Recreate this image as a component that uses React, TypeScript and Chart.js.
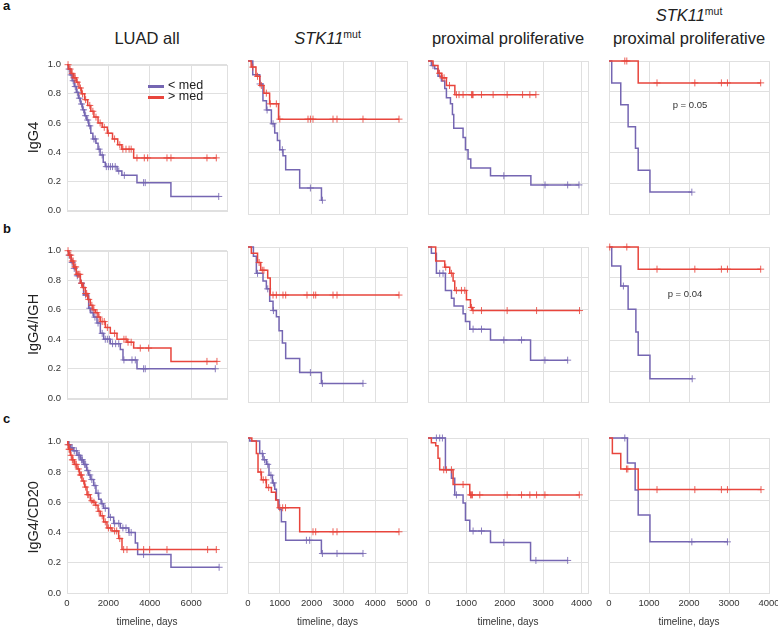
import React, { useEffect, useRef } from "react";
import { Chart, registerables } from "chart.js";
Chart.register(...registerables);

const FONT = '"Liberation Sans", Arial, Helvetica, sans-serif';
const PURPLE = "#7566b2";
const RED = "#e8453c";
const PURPLE_MARK = "rgba(117,102,178,0.85)";
const RED_MARK = "rgba(232,69,60,0.85)";
const GRID = "#e0e0e0";

// ---------- labels / axes ----------
const rowLabels = ["IgG4", "IgG4/IGH", "IgG4/CD20"];
const panelLetters = ["a", "b", "c"];
const colMaxDays = [7730, 5000, 4170, 4000];
const colTicks = [
  [0, 2000, 4000, 6000],
  [0, 1000, 2000, 3000, 4000, 5000],
  [0, 1000, 2000, 3000, 4000],
  [0, 1000, 2000, 3000, 4000],
];
const yTicks = [0, 0.2, 0.4, 0.6, 0.8, 1.0];
const xTitle = "timeline, days";
const seriesNames = ["< med", "> med"];
const pValues = ["p = 0.05", "p = 0.04"];

// ---------- data: event times (days), survival after event, censor times ----------
// Row a: IgG4
const a1LowT = [60, 150, 250, 350, 450, 550, 650, 750, 850, 950, 1050, 1150, 1250, 1400, 1500, 1600, 1750, 1850, 2420, 2650, 3380, 5020];
const a1LowS = [0.97, 0.93, 0.89, 0.85, 0.81, 0.77, 0.73, 0.69, 0.65, 0.62, 0.58, 0.53, 0.49, 0.46, 0.42, 0.38, 0.33, 0.30, 0.27, 0.24, 0.19, 0.095];
const a1LowC = [100, 200, 300, 400, 500, 600, 700, 800, 900, 1000, 1100, 1300, 1370, 1550, 1700, 1900, 2000, 2100, 2200, 2330, 2500, 2770, 3700, 3780, 7330];
const a1HighT = [80, 200, 320, 450, 580, 700, 850, 1000, 1150, 1300, 1500, 1700, 1950, 2200, 2450, 2650, 3220];
const a1HighS = [0.97, 0.94, 0.91, 0.88, 0.84, 0.80, 0.76, 0.72, 0.68, 0.64, 0.60, 0.57, 0.53, 0.49, 0.45, 0.42, 0.36];
const a1HighC = [50, 150, 250, 350, 400, 500, 650, 750, 900, 1100, 1250, 1400, 1600, 1800, 2000, 2300, 2550, 2700, 2850, 3000, 3100, 3380, 3735, 3896, 4830, 5023, 6762, 7213];

const a2LowT = [150, 370, 470, 580, 735, 840, 925, 1000, 1100, 1185, 1625, 2310];
const a2LowS = [0.91, 0.85, 0.74, 0.68, 0.59, 0.53, 0.48, 0.42, 0.38, 0.29, 0.17, 0.09];
const a2LowC = [380, 600, 790, 1080, 1962, 2340];
const a2HighT = [100, 250, 370, 500, 680, 960];
const a2HighS = [0.96, 0.90, 0.84, 0.79, 0.72, 0.62];
const a2HighC = [150, 300, 420, 577, 700, 891, 1000, 1887, 1962, 2044, 2673, 2799, 3616, 4748];

const a3LowT = [88, 175, 261, 350, 436, 480, 585, 637, 671, 914, 976, 1044, 1115, 1629, 2681];
const a3LowS = [0.97, 0.95, 0.90, 0.87, 0.82, 0.76, 0.72, 0.65, 0.56, 0.50, 0.42, 0.36, 0.30, 0.25, 0.19];
const a3LowC = [130, 1976, 3050, 3640, 3935];
const a3HighT = [130, 260, 350, 480, 700];
const a3HighS = [0.97, 0.92, 0.89, 0.84, 0.78];
const a3HighC = [300, 380, 420, 560, 741, 809, 914, 1133, 1159, 1175, 1394, 1697, 2063, 2465, 2655, 2812];

const a4LowT = [68, 294, 478, 662, 730, 1024];
const a4LowS = [0.857, 0.714, 0.571, 0.429, 0.286, 0.143];
const a4LowC = [2071];
const a4HighT = [730];
const a4HighS = [0.857];
const a4HighC = [395, 445, 1200, 2146, 2810, 2961, 3792];

// Row b: IgG4/IGH
const b1LowT = [80, 200, 322, 450, 644, 800, 1047, 1150, 1288, 1449, 1610, 1771, 2093, 2576, 2705, 3381];
const b1LowS = [0.97, 0.92, 0.88, 0.83, 0.78, 0.70, 0.61, 0.58, 0.55, 0.51, 0.44, 0.40, 0.37, 0.33, 0.26, 0.20];
const b1LowC = [100, 250, 350, 500, 700, 900, 1100, 1250, 1350, 1500, 1700, 1850, 1950, 2050, 2200, 2350, 2500, 2750, 3140, 3300, 3700, 3780, 7165];
const b1HighT = [80, 200, 322, 450, 644, 750, 886, 1000, 1127, 1250, 1369, 1500, 1610, 1852, 2093, 2415, 2900, 3220, 5023];
const b1HighS = [0.97, 0.93, 0.89, 0.84, 0.78, 0.75, 0.71, 0.67, 0.63, 0.60, 0.58, 0.55, 0.52, 0.48, 0.44, 0.40, 0.38, 0.34, 0.25];
const b1HighC = [50, 120, 180, 250, 300, 380, 420, 500, 560, 620, 700, 800, 900, 950, 1050, 1200, 1300, 1450, 1550, 1700, 1800, 1950, 2300, 2750, 2850, 2950, 3100, 3540, 3945, 6762, 7245];

const b2LowT = [170, 263, 472, 577, 682, 787, 893, 976, 1081, 1185, 1625, 2308];
const b2LowS = [0.94, 0.83, 0.78, 0.73, 0.65, 0.59, 0.55, 0.46, 0.38, 0.28, 0.19, 0.12];
const b2LowC = [300, 620, 800, 1962, 2340, 3616];
const b2HighT = [105, 300, 400, 620, 700];
const b2HighS = [0.96, 0.90, 0.85, 0.80, 0.69];
const b2HighC = [350, 450, 500, 787, 891, 1100, 1185, 1855, 2066, 2129, 2673, 2799, 4748];

const b3LowT = [88, 219, 454, 611, 679, 914, 976, 1089, 1629, 2673];
const b3LowS = [0.96, 0.83, 0.72, 0.67, 0.62, 0.57, 0.52, 0.47, 0.40, 0.27];
const b3LowC = [305, 392, 1175, 1394, 1976, 2438, 3047, 3640];
const b3HighT = [201, 436, 567, 654, 697, 1002, 1107, 1159];
const b3HighS = [0.91, 0.87, 0.83, 0.78, 0.72, 0.66, 0.61, 0.59];
const b3HighC = [462, 611, 741, 872, 958, 1133, 1175, 1394, 2063, 2830, 3950];

const b4LowT = [68, 294, 478, 672, 730, 1024];
const b4LowS = [0.877, 0.748, 0.598, 0.452, 0.301, 0.15];
const b4LowC = [360, 2080];
const b4HighT = [730];
const b4HighS = [0.857];
const b4HighC = [18, 445, 1200, 2146, 2810, 2961, 3792];

// Row c: IgG4/CD20
const c1LowT = [80, 161, 300, 483, 650, 805, 950, 1047, 1150, 1288, 1400, 1530, 1650, 1771, 2013, 2254, 2576, 2979, 3300, 3413, 5023];
const c1LowS = [0.98, 0.96, 0.94, 0.91, 0.88, 0.85, 0.81, 0.78, 0.75, 0.71, 0.66, 0.62, 0.59, 0.56, 0.50, 0.46, 0.43, 0.40, 0.33, 0.255, 0.17];
const c1LowC = [100, 200, 250, 350, 450, 550, 600, 700, 750, 850, 900, 1000, 1100, 1200, 1350, 1500, 1700, 1850, 2100, 2300, 2500, 2700, 2850, 3000, 3100, 3700, 7350];
const c1HighT = [40, 80, 160, 241, 350, 483, 600, 725, 850, 966, 1127, 1250, 1369, 1500, 1610, 1771, 1932, 2174, 2496, 2657];
const c1HighS = [0.98, 0.95, 0.91, 0.88, 0.85, 0.82, 0.78, 0.74, 0.70, 0.65, 0.61, 0.60, 0.58, 0.54, 0.51, 0.47, 0.43, 0.41, 0.36, 0.287];
const c1HighC = [50, 100, 130, 200, 260, 300, 400, 450, 550, 650, 700, 800, 900, 1000, 1050, 1200, 1300, 1400, 1550, 1700, 1850, 2000, 2100, 2300, 2400, 2550, 2737, 2898, 3703, 3993, 4830, 6794, 7213];

const c2LowT = [53, 368, 472, 577, 660, 767, 840, 893, 976, 1050, 1185, 2308];
const c2LowS = [0.98, 0.90, 0.86, 0.83, 0.76, 0.71, 0.67, 0.60, 0.54, 0.46, 0.34, 0.255];
const c2LowC = [450, 520, 620, 720, 800, 1837, 1940, 2340, 2799, 3616];
const c2HighT = [120, 263, 315, 420, 577, 735, 871, 944, 1625];
const c2HighS = [0.98, 0.90, 0.78, 0.73, 0.68, 0.65, 0.60, 0.55, 0.395];
const c2HighC = [400, 480, 560, 650, 1000, 1090, 1180, 2044, 2129, 2673, 2799, 4748];

const c3LowT = [454, 611, 697, 914, 976, 1089, 1629, 2673];
const c3LowS = [0.795, 0.74, 0.633, 0.58, 0.47, 0.40, 0.326, 0.21];
const c3LowC = [219, 305, 376, 741, 1175, 1394, 1976, 2812, 3640];
const c3HighT = [88, 201, 261, 305, 654, 1089];
const c3HighS = [0.97, 0.95, 0.87, 0.795, 0.70, 0.633];
const c3HighC = [410, 480, 611, 914, 1107, 1133, 1159, 1350, 2063, 2438, 2655, 2830, 3047, 3943];

const c4LowT = [461, 654, 730, 1024];
const c4LowS = [0.838, 0.665, 0.503, 0.33];
const c4LowC = [395, 2071, 2961];
const c4HighT = [84, 294, 730];
const c4HighS = [0.90, 0.80, 0.667];
const c4HighC = [436, 470, 1200, 2146, 2810, 2961, 3800];

type Series = [number[], number[], number[]];
type Panel = { low: Series; high: Series };

const panels: Panel[][] = [
  [
    { low: [a1LowT, a1LowS, a1LowC], high: [a1HighT, a1HighS, a1HighC] },
    { low: [a2LowT, a2LowS, a2LowC], high: [a2HighT, a2HighS, a2HighC] },
    { low: [a3LowT, a3LowS, a3LowC], high: [a3HighT, a3HighS, a3HighC] },
    { low: [a4LowT, a4LowS, a4LowC], high: [a4HighT, a4HighS, a4HighC] },
  ],
  [
    { low: [b1LowT, b1LowS, b1LowC], high: [b1HighT, b1HighS, b1HighC] },
    { low: [b2LowT, b2LowS, b2LowC], high: [b2HighT, b2HighS, b2HighC] },
    { low: [b3LowT, b3LowS, b3LowC], high: [b3HighT, b3HighS, b3HighC] },
    { low: [b4LowT, b4LowS, b4LowC], high: [b4HighT, b4HighS, b4HighC] },
  ],
  [
    { low: [c1LowT, c1LowS, c1LowC], high: [c1HighT, c1HighS, c1HighC] },
    { low: [c2LowT, c2LowS, c2LowC], high: [c2HighT, c2HighS, c2HighC] },
    { low: [c3LowT, c3LowS, c3LowC], high: [c3HighT, c3HighS, c3HighC] },
    { low: [c4LowT, c4LowS, c4LowC], high: [c4HighT, c4HighS, c4HighC] },
  ],
];

// ---------- layout (plot-area rectangles, page px) ----------
const colLeft = [67, 248, 428, 609];
const colRight = [227, 407, 588, 769];
const rowTop = [61, 247, 438];
const rowBottom = [214, 402, 593];

function stepData([t, s, c]: Series) {
  const pts = [{ x: 0, y: 1 }];
  for (let i = 0; i < t.length; i++) pts.push({ x: t[i], y: s[i] });
  const last = Math.max(t.length ? t[t.length - 1] : 0, ...c);
  pts.push({ x: last, y: s.length ? s[s.length - 1] : 1 });
  return pts;
}
function censorData([t, s, c]: Series) {
  return c.map((x) => {
    let y = 1;
    for (let i = 0; i < t.length; i++) if (t[i] <= x) y = s[i];
    return { x, y };
  });
}

const framePlugin = {
  id: "frame",
  beforeDatasetsDraw(chart: any) {
    const { ctx, chartArea } = chart;
    const { left, top, right, bottom } = chartArea;
    ctx.save();
    ctx.strokeStyle = GRID;
    ctx.lineWidth = 1;
    ctx.strokeRect(Math.round(left) + 0.5, Math.round(top) + 0.5, Math.round(right - left), Math.round(bottom - top));
    ctx.restore();
  },
};

function KMPanel({ row, col }: { row: number; col: number }) {
  const ref = useRef<HTMLCanvasElement>(null);
  const W = col === 0 ? 67 : 14;
  const padTop = 8;
  const padRight = 18;
  const xH = row === 2 ? 35 : 0;
  const padBottom = row === 2 ? 0 : 8;
  const plotW = colRight[col] - colLeft[col];
  const plotH = rowBottom[row] - rowTop[row];
  const width = W + plotW + padRight;
  const height = padTop + plotH + xH + padBottom;
  const p = panels[row][col];

  useEffect(() => {
    if (!ref.current) return;
    const lineDs = (series: Series, color: string, label: string) => ({
      label,
      data: stepData(series),
      borderColor: color,
      backgroundColor: color,
      borderWidth: 1.5,
      stepped: "before" as const,
      pointRadius: 0,
      fill: false,
      clip: 4,
    });
    const markDs = (series: Series, color: string, label: string) => ({
      label,
      data: censorData(series),
      showLine: false,
      pointStyle: "cross" as const,
      pointRadius: 3.5,
      pointBorderWidth: 1,
      pointBorderColor: color,
      borderColor: color,
      backgroundColor: color,
      clip: 8,
    });
    const chart = new Chart(ref.current, {
      type: "line",
      data: {
        datasets: [
          lineDs(p.high, RED, seriesNames[1]),
          markDs(p.high, RED_MARK, seriesNames[1] + " censored"),
          lineDs(p.low, PURPLE, seriesNames[0]),
          markDs(p.low, PURPLE_MARK, seriesNames[0] + " censored"),
        ] as any,
      },
      options: {
        responsive: false,
        animation: false,
        devicePixelRatio: 1,
        events: [],
        layout: { padding: { left: 0, top: padTop, right: padRight, bottom: padBottom } },
        plugins: { legend: { display: false }, tooltip: { enabled: false }, title: { display: false } },
        scales: {
          x: {
            type: "linear",
            min: 0,
            max: colMaxDays[col],
            afterBuildTicks: (s: any) => {
              s.ticks = colTicks[col].map((v) => ({ value: v }));
            },
            ticks: {
              display: row === 2,
              padding: 5,
              color: "#333",
              maxRotation: 0,
              autoSkip: false,
              font: { family: FONT, size: 9.5 },
              callback: (v: any) => String(v),
            },
            grid: { color: GRID, drawTicks: false, lineWidth: 1 },
            border: { display: false },
            title: { display: row === 2, text: xTitle, color: "#333", font: { family: FONT, size: 10 }, padding: 0 },
            afterFit: (s: any) => {
              s.height = xH;
            },
          },
          y: {
            type: "linear",
            min: 0,
            max: 1,
            afterBuildTicks: (s: any) => {
              s.ticks = yTicks.map((v) => ({ value: v }));
            },
            ticks: {
              display: col === 0,
              padding: 6,
              color: "#333",
              font: { family: FONT, size: 9.5 },
              callback: (v: any) => Number(v).toFixed(1),
            },
            grid: { color: GRID, drawTicks: false, lineWidth: 1 },
            border: { display: false },
            title: {
              display: col === 0,
              text: rowLabels[row],
              color: "#222",
              font: { family: FONT, size: 14.5 },
              padding: { top: 25, bottom: 0 },
            },
            afterFit: (s: any) => {
              s.width = W;
            },
          },
        },
      } as any,
      plugins: [framePlugin],
    });
    return () => chart.destroy();
  }, []);

  return (
    <canvas
      ref={ref}
      width={width}
      height={height}
      style={{ position: "absolute", left: colLeft[col] - W, top: rowTop[row] - padTop, width, height }}
    />
  );
}

const Stk = () => (
  <span>
    <span style={{ fontStyle: "italic" }}>STK11</span>
    <span style={{ fontSize: 10.5, position: "relative", top: -6 }}>mut</span>
  </span>
);

export default function App() {
  const colCenter = (c: number) => (colLeft[c] + colRight[c]) / 2;
  const titleStyle = (c: number, top: number): React.CSSProperties => ({
    position: "absolute",
    left: colCenter(c) - 110,
    width: 220,
    top,
    textAlign: "center",
    fontSize: 16.5,
    lineHeight: "18px",
    whiteSpace: "nowrap",
    color: "#222",
  });
  const letterTops = [-1, 222, 412];
  return (
    <div
      style={{
        position: "absolute",
        left: 0,
        top: 0,
        width: 778,
        height: 628,
        overflow: "hidden",
        background: "#fff",
        fontFamily: FONT,
        color: "#222",
      }}
    >
      {panelLetters.map((l, i) => (
        <div key={l} style={{ position: "absolute", left: 3, top: letterTops[i], fontSize: 13, lineHeight: "13px", fontWeight: "bold", color: "#111" }}>
          {l}
        </div>
      ))}
      <div style={titleStyle(0, 29)}>LUAD all</div>
      <div style={titleStyle(1, 29)}>
        <Stk />
      </div>
      <div style={titleStyle(2, 29)}>proximal proliferative</div>
      <div style={titleStyle(3, 6)}>
        <Stk />
      </div>
      <div style={titleStyle(3, 29)}>proximal proliferative</div>

      {[0, 1, 2].map((r) => [0, 1, 2, 3].map((c) => <KMPanel key={r + "-" + c} row={r} col={c} />))}

      {/* legend */}
      <div style={{ position: "absolute", left: 148, top: 85, width: 16, height: 2.5, background: PURPLE }} />
      <div style={{ position: "absolute", left: 168, top: 78, fontSize: 12.5, lineHeight: "14px", color: "#222" }}>{seriesNames[0]}</div>
      <div style={{ position: "absolute", left: 148, top: 96, width: 16, height: 2.5, background: RED }} />
      <div style={{ position: "absolute", left: 168, top: 89, fontSize: 12.5, lineHeight: "14px", color: "#222" }}>{seriesNames[1]}</div>

      {/* p-values */}
      <div style={{ position: "absolute", left: 690 - 30, width: 60, top: 99, textAlign: "center", fontSize: 9.5, lineHeight: "11px", color: "#333" }}>
        {pValues[0]}
      </div>
      <div style={{ position: "absolute", left: 685 - 30, width: 60, top: 288, textAlign: "center", fontSize: 9.5, lineHeight: "11px", color: "#333" }}>
        {pValues[1]}
      </div>
    </div>
  );
}
